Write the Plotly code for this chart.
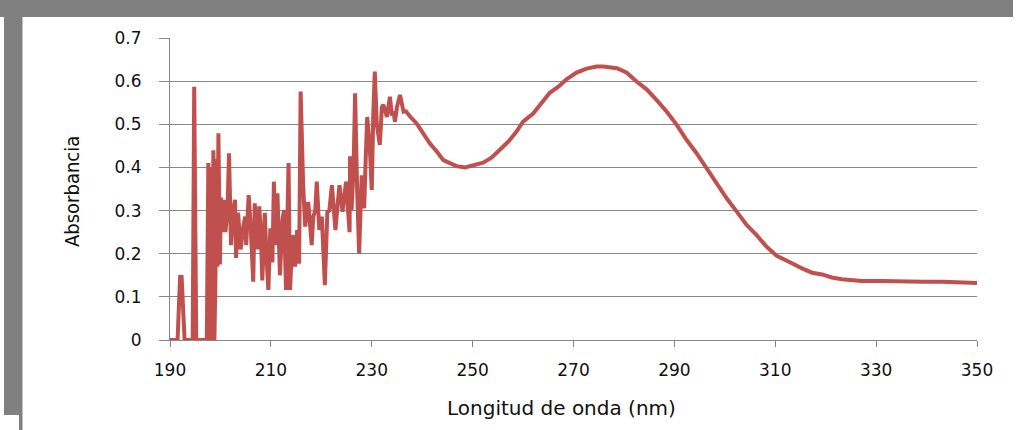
import plotly.graph_objects as go

# Wavelength (nm) and absorbance
wavelength_noisy = [
    190.0, 191.5, 192.0, 192.3, 192.9, 194.5, 194.8, 195.2, 197.3, 197.6,
    197.9, 198.1, 198.3, 198.6, 198.8, 199.0, 199.2, 199.4, 199.6, 199.9,
    200.1, 200.4, 200.7, 201.0, 201.4, 201.7, 202.1, 202.5, 202.9, 203.1,
    203.5, 204.0, 204.5, 204.9, 205.1, 205.6, 206.0, 206.5, 206.8, 207.3,
    207.7, 208.0, 208.3, 208.8, 209.1, 209.5, 209.9, 210.3, 210.6, 210.9,
    211.3, 211.8, 212.3, 212.6, 213.0, 213.5, 213.8, 214.3, 214.8, 215.2,
    215.6, 215.9, 216.4, 216.8, 217.4, 218.1, 218.4, 218.8, 219.1, 219.6,
    220.1, 220.7, 221.2, 221.6, 222.1, 222.8, 223.2, 223.6, 224.2, 224.9,
    225.3, 225.6, 225.7, 226.0, 226.4, 226.7, 227.1, 227.5, 228.0, 228.5,
    228.8, 229.1, 229.6, 230.0, 230.3, 230.6, 231.0, 231.6, 232.0, 232.3,
    232.7, 233.0, 233.3, 233.6, 234.0, 234.3, 234.6, 235.0, 235.6, 236.0,
    236.3, 236.8, 237.2,
]
absorbance_noisy = [
    0.0, 0.0, 0.146, 0.146, 0.0, 0.0, 0.587, 0.0, 0.0, 0.41,
    0.0, 0.40, 0.0, 0.44, 0.0, 0.135, 0.42, 0.17, 0.479, 0.175,
    0.33, 0.25, 0.325, 0.25, 0.30, 0.433, 0.22, 0.30, 0.325, 0.19,
    0.295, 0.21, 0.26, 0.286, 0.22, 0.336, 0.263, 0.135, 0.317, 0.21,
    0.31, 0.25, 0.138, 0.295, 0.20, 0.116, 0.259, 0.18, 0.367, 0.22,
    0.34, 0.15, 0.278, 0.301, 0.116, 0.41, 0.116, 0.243, 0.17, 0.255,
    0.177, 0.576, 0.36, 0.263, 0.32, 0.22, 0.286, 0.30, 0.367, 0.255,
    0.286, 0.127, 0.297, 0.30, 0.359, 0.255, 0.31, 0.359, 0.297, 0.367,
    0.30, 0.25, 0.426, 0.301, 0.40, 0.572, 0.35, 0.20, 0.382, 0.305,
    0.42, 0.517, 0.45, 0.348, 0.52, 0.622, 0.50, 0.452, 0.54, 0.545,
    0.53, 0.517, 0.54, 0.564, 0.52, 0.53, 0.506, 0.54, 0.568, 0.54,
    0.529, 0.53, 0.522,
]
wavelength_smooth = [
    237.6, 238.9, 240.2, 241.5, 242.9, 244.2, 245.5, 246.8, 248.5, 250.1,
    252.1, 253.8, 255.4, 257.1, 258.7, 260.0, 262.0, 263.7, 265.3, 267.0,
    268.6, 270.6, 272.6, 274.6, 275.9, 278.6, 280.5, 282.5, 284.5, 286.5,
    288.5, 290.5, 292.4, 294.4, 296.4, 298.4, 300.4, 302.4, 304.3, 306.3,
    308.3, 310.3, 311.3, 313.3, 315.3, 317.3, 319.3, 321.2, 323.2, 325.2,
    327.2, 331.2, 335.2, 339.2, 343.2, 347.1, 350.0,
]
absorbance_smooth = [
    0.518, 0.502, 0.478, 0.456, 0.437, 0.417, 0.410, 0.403, 0.400, 0.404,
    0.411, 0.423, 0.440, 0.460, 0.483, 0.506, 0.525, 0.549, 0.573, 0.587,
    0.604, 0.620, 0.629, 0.634, 0.634, 0.630, 0.620, 0.599, 0.581, 0.556,
    0.529, 0.498, 0.464, 0.433, 0.398, 0.359, 0.328, 0.297, 0.267, 0.243,
    0.216, 0.195, 0.190, 0.178, 0.166, 0.156, 0.152, 0.145, 0.141, 0.139,
    0.137, 0.137, 0.135, 0.135, 0.135, 0.134, 0.132,
]
x_ticks = [190, 210, 230, 250, 270, 290, 310, 330, 350]
y_ticks = [0, 0.1, 0.2, 0.3, 0.4, 0.5, 0.6, 0.7]
y_tick_text = ["0", "0.1", "0.2", "0.3", "0.4", "0.5", "0.6", "0.7"]

wavelength = wavelength_noisy + wavelength_smooth
absorbance = absorbance_noisy + absorbance_smooth

W, H = 1017, 430
L, R, T, B = 170, 40, 38, 90
pw, ph = W - L - R, H - T - B


def px(xp):
    return (xp - L) / pw


def py(yp):
    return (H - B - yp) / ph


GRAY = "#808080"
GRID = "#868686"
TXT = "#111111"

fig = go.Figure()
fig.add_trace(go.Scatter(
    x=wavelength, y=absorbance, mode="lines",
    line=dict(color="#C0504D", width=4, shape="linear"),
    cliponaxis=False, showlegend=False, hoverinfo="skip",
))

shapes = [
    dict(type="rect", xref="paper", yref="paper", x0=px(0), x1=px(1013), y0=py(17), y1=py(0),
         fillcolor=GRAY, line=dict(width=0), layer="below"),
    dict(type="rect", xref="paper", yref="paper", x0=px(4), x1=px(22.5), y0=py(415), y1=py(17),
         fillcolor=GRAY, line=dict(width=0), layer="below"),
    dict(type="rect", xref="paper", yref="paper", x0=px(19), x1=px(22.5), y0=py(430), y1=py(415),
         fillcolor=GRAY, line=dict(width=0), layer="below"),
]

fig.update_layout(
    width=W, height=H,
    margin=dict(l=L, r=R, t=T, b=B, pad=0),
    paper_bgcolor="white", plot_bgcolor="white",
    shapes=shapes,
    xaxis=dict(
        range=[190, 350], tickvals=x_ticks, showgrid=False, zeroline=False,
        showline=True, linecolor=GRID, linewidth=1,
        ticks="outside", ticklen=6, tickcolor=GRID, tickwidth=1,
        tickfont=dict(family="DejaVu Sans", size=17, color=TXT),
        ticklabelstandoff=9,
    ),
    yaxis=dict(
        range=[0, 0.7], tickvals=y_ticks, ticktext=y_tick_text,
        showgrid=True, gridcolor=GRID, gridwidth=1, zeroline=False,
        showline=True, linecolor=GRID, linewidth=1,
        ticks="outside", ticklen=10, tickcolor=GRID, tickwidth=1,
        tickfont=dict(family="DejaVu Sans", size=17, color=TXT),
        ticklabelstandoff=14,
    ),
    annotations=[
        dict(text="Longitud de onda (nm)", xref="paper", yref="paper",
             x=px(561), y=py(408), showarrow=False, xanchor="center", yanchor="middle",
             font=dict(family="DejaVu Sans", size=20, color=TXT)),
        dict(text="Absorbancia", xref="paper", yref="paper", textangle=-90,
             x=px(72), y=py(192), showarrow=False, xanchor="center", yanchor="middle",
             font=dict(family="DejaVu Sans Condensed, Roboto Condensed, Roboto, sans-serif",
                       size=20, color=TXT)),
    ],
)

fig.write_html("out.html", config={"displayModeBar": False},
               post_script="document.body.style.margin='0';document.body.style.padding='0';")
